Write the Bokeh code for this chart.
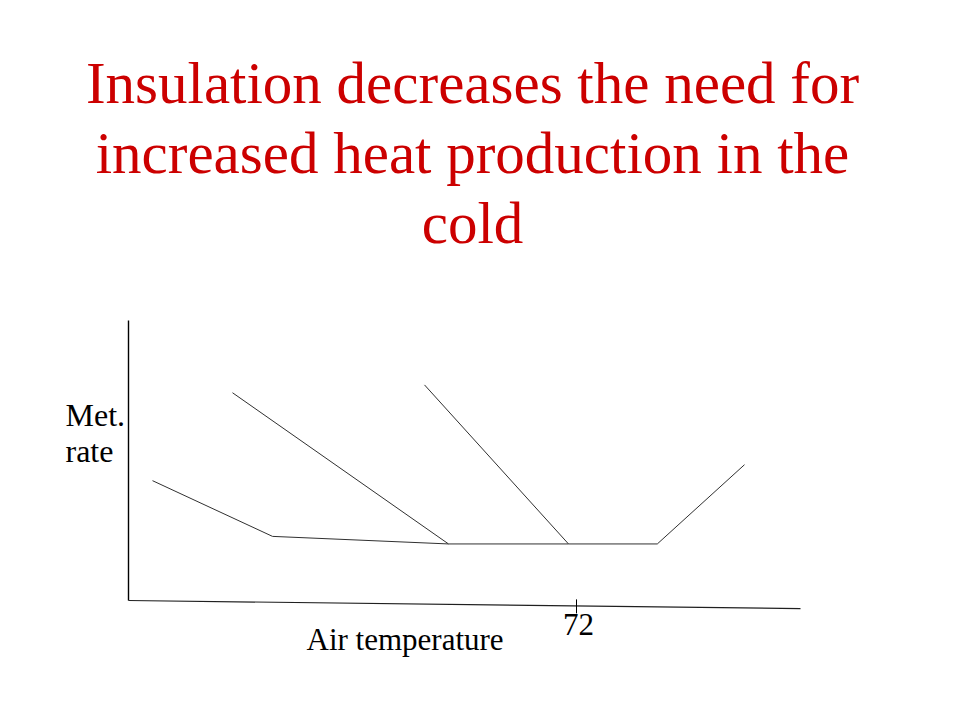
from bokeh.plotting import figure
from bokeh.models import Range1d, Label
from bokeh.embed import file_html
from bokeh.resources import INLINE

# ---- data (arbitrary units: air temperature, metabolic rate) ----
# curve with best insulation: cold limb, thermoneutral zone, heat limb
curve1_temp = [19.0, 34.0, 56.0, 71.0, 82.1, 93.0]
curve1_rate = [42.8, 22.9, 20.2, 20.2, 20.2, 48.5]
# intermediate insulation: cold limb meeting the thermoneutral line
curve2_temp = [29.0, 56.0]
curve2_rate = [74.2, 20.2]
# poorest insulation
curve3_temp = [53.0, 71.0]
curve3_rate = [77.0, 20.2]

# hand-drawn axes of the slide
yaxis_temp = [16.0, 16.0]
yaxis_rate = [100.0, 0.0]
xaxis_temp = [16.0, 100.0]
xaxis_rate = [0.0, -2.9]

tick_values = [72]
tick_labels = ["72"]

title_lines = ["Insulation decreases the need for",
               "increased heat production in the",
               "cold"]
ylabel_lines = ["Met.", "rate"]
xlabel = "Air temperature"

W, H = 944, 704
p = figure(width=W, height=H, output_backend="svg", toolbar_location=None,
           x_range=Range1d(0, 118), y_range=Range1d(-37.1429, 214.2857),
           min_border=0, min_border_left=0, min_border_right=0,
           min_border_top=0, min_border_bottom=0)
p.axis.visible = False
p.grid.visible = False
p.outline_line_color = None
p.background_fill_color = "white"
p.border_fill_color = "white"

CURVE = "#303030"
p.line(curve1_temp, curve1_rate, line_color=CURVE, line_width=1)
p.line(curve2_temp, curve2_rate, line_color=CURVE, line_width=1)
p.line(curve3_temp, curve3_rate, line_color=CURVE, line_width=1)

p.line(yaxis_temp, yaxis_rate, line_color="black", line_width=1.4)
p.line(xaxis_temp, xaxis_rate, line_color="#202020", line_width=1.2)

# tick mark(s) on the temperature axis
TICK_UP, TICK_DOWN = 0.4, 4.6
p.segment(x0=tick_values, y0=[TICK_UP] * len(tick_values),
          x1=tick_values, y1=[-TICK_DOWN] * len(tick_values),
          line_color="black", line_width=1)
# tick labels
p.text(x=[v + 0.25 for v in tick_values], y=[-8.6] * len(tick_values),
       text=tick_labels, text_align="center", text_baseline="alphabetic",
       text_font={"value": "Liberation Serif"}, text_font_size="31px",
       text_color="black")

FONT = "Liberation Serif"
RED = "#cc0000"
# title (screen units, y measured from the bottom of the canvas)
for line, base in zip(title_lines, [82, 152, 222]):
    p.add_layout(Label(x=472, y=H - base, x_units="screen", y_units="screen",
                       text=line, text_align="center", text_baseline="alphabetic",
                       text_font=FONT, text_font_size="59px", text_color=RED))

for line, base in zip(ylabel_lines, [414, 450]):
    p.add_layout(Label(x=65, y=H - base, x_units="screen", y_units="screen",
                       text=line, text_align="left", text_baseline="alphabetic",
                       text_font=FONT, text_font_size="32px", text_color="black"))

p.add_layout(Label(x=306, y=H - 639, x_units="screen", y_units="screen",
                   text=xlabel, text_align="left", text_baseline="alphabetic",
                   text_font=FONT, text_font_size="31px", text_color="black"))

open("out.html", "w").write(file_html(p, INLINE))
